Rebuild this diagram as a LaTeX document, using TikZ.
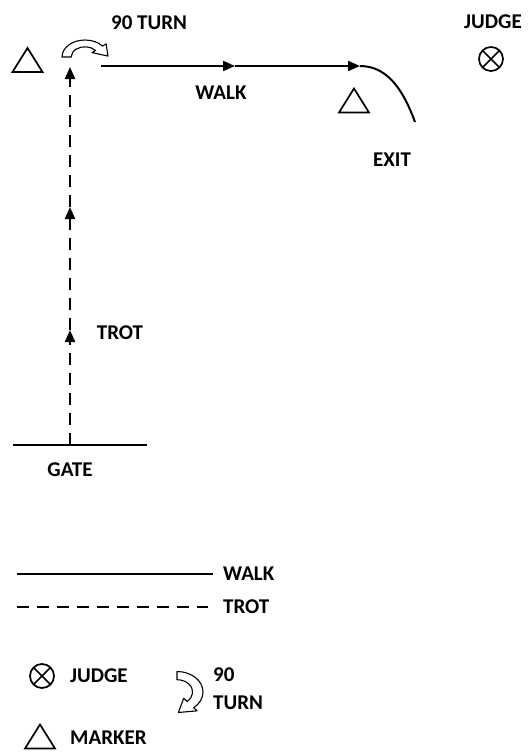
\documentclass[tikz,border=0pt]{standalone}
\usepackage{fontspec}
\setmainfont{Carlito}
\usetikzlibrary{arrows.meta}
\tikzset{
  walk/.style={line width=2pt},
  trot/.style={line width=2.2pt, dash pattern=on 12pt off 8pt},
  tip/.style={-{Triangle[length=12pt,width=10pt]}},
  lbl/.style={font=\bfseries\fontsize{21}{24}\selectfont, inner sep=0pt},
  marker/.pic={\draw[line width=1.7pt] (-15,12) -- (0,-12) -- (15,12) -- cycle;},
  judge/.pic={\draw[line width=1.7pt] (0,0) circle (12) (-8.5,-8.5) -- (8.5,8.5) (-8.5,8.5) -- (8.5,-8.5);},
  turn/.pic={\draw[line width=1.1pt, line join=round] (180:1) arc[start angle=180, end angle=320, radius=1]
     -- (320:1.2) -- (0.999,-0.054) -- (320:0.4) -- (320:0.6) arc[start angle=320, end angle=180, radius=0.6] -- cycle;}
}
\begin{document}
\begin{tikzpicture}[x=1pt, y=-1pt]
	\useasboundingbox (0,0) rectangle (528,752);
	% course
	\coordinate (gateL) at (13,445);
	\coordinate (gateR) at (147,445);
	\coordinate (gate) at (70,445);
	\coordinate (trotA) at (70,330);
	\coordinate (trotB) at (70,207);
	\coordinate (turnpt) at (70,67);
	\coordinate (walkS) at (101,66);
	\coordinate (walkA) at (235,66);
	\coordinate (walkB) at (360,66);
	\coordinate (exitpt) at (415,122);
	\draw[walk] (gateL) -- (gateR);
	\draw[trot, tip] (gate) -- (trotA);
	\draw[trot, tip] (trotA) -- (trotB);
	\draw[trot, tip] (trotB) -- (turnpt);
	\draw[walk, tip] (walkS) -- (walkA);
	\draw[walk, tip] (walkA) -- (walkB);
	\draw[walk] (walkB) .. controls (390,66) and (405,95) .. (exitpt);
	\pic[xscale=23, yscale=17] at (85,57) {turn};
	\pic at (27.5,60) {marker};
	\pic at (354,100.5) {marker};
	\pic at (491,59) {judge};
	\node[lbl] (turnlbl) at (149,23) {90 TURN};
	\node[lbl] (walklbl) at (221,93) {WALK};
	\node[lbl] (exitlbl) at (392,160) {EXIT};
	\node[lbl] (judgelbl) at (493,22) {JUDGE};
	\node[lbl] (trotlbl) at (120,333) {TROT};
	\node[lbl] (gatelbl) at (70,470) {GATE};
	% key
	\node[lbl, anchor=west] (keywalk) at (223,574) {WALK};
	\node[lbl, anchor=west] (keytrot) at (223,607) {TROT};
	\node[lbl, anchor=west] (keyjudge) at (70,676) {JUDGE};
	\node[lbl, anchor=west] (keyninety) at (213,675) {90};
	\node[lbl, anchor=west] (keyturn) at (213,703) {TURN};
	\node[lbl, anchor=west] (keymarker) at (70,738) {MARKER};
	\draw[walk] (17,574) -- ([xshift=-10pt]keywalk.west);
	\draw[trot] (17,607) -- ([xshift=-15pt]keytrot.west);
	\pic at (42,676) {judge};
	\pic[rotate=-90, xscale=20.5, yscale=26] at (177,692) {turn};
	\pic at (40,736.5) {marker};
\end{tikzpicture}
\end{document}
